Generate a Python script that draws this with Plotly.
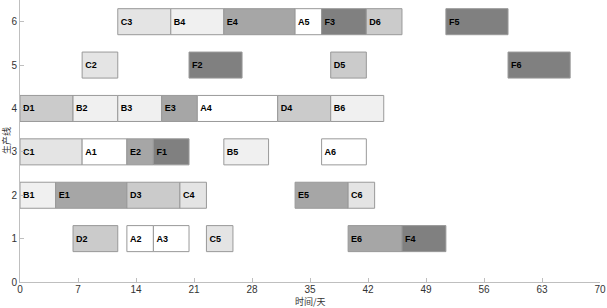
import plotly.graph_objects as go

tasks = ["C3", "B4", "E4", "A5", "F3", "D6", "F5",
         "C2", "F2", "D5", "F6",
         "D1", "B2", "B3", "E3", "A4", "D4", "B6",
         "C1", "A1", "E2", "F1", "B5", "A6",
         "B1", "E1", "D3", "C4", "E5", "C6",
         "D2", "A2", "A3", "C5", "E6", "F4"]
lines = [6, 6, 6, 6, 6, 6, 6,
         5, 5, 5, 5,
         4, 4, 4, 4, 4, 4, 4,
         3, 3, 3, 3, 3, 3,
         2, 2, 2, 2, 2, 2,
         1, 1, 1, 1, 1, 1]
starts = [11.8, 18.2, 24.6, 33.2, 36.4, 41.8, 51.4,
          7.5, 20.4, 37.5, 58.9,
          0.0, 6.4, 11.8, 17.1, 21.4, 31.1, 37.5,
          0.0, 7.5, 12.9, 16.1, 24.6, 36.4,
          0.0, 4.3, 12.9, 19.3, 33.2, 39.6,
          6.4, 12.9, 16.1, 22.5, 39.6, 46.1]
ends = [18.2, 24.6, 33.2, 36.4, 41.8, 46.1, 58.9,
        11.8, 26.8, 41.8, 66.4,
        6.4, 11.8, 17.1, 21.4, 31.1, 37.5, 43.9,
        7.5, 12.9, 16.1, 20.4, 30.0, 41.8,
        4.3, 12.9, 19.3, 22.5, 39.6, 42.8,
        11.8, 16.1, 20.4, 25.7, 46.1, 51.4]

x_ticks = [0, 7, 14, 21, 28, 35, 42, 49, 56, 63, 70]
y_ticks = [0, 1, 2, 3, 4, 5, 6]
x_title = "时间/天"
y_title = "生产线"

type_colors = {"A": "#ffffff", "B": "#f0f0f0", "C": "#e4e4e4",
               "D": "#cbcbcb", "E": "#a6a6a6", "F": "#808080"}

durations = [e - s for s, e in zip(starts, ends)]
colors = [type_colors[t[0]] for t in tasks]

fig = go.Figure()
fig.add_trace(go.Bar(
    x=durations, y=lines, base=starts, orientation="h", width=0.6,
    marker=dict(color=colors, line=dict(color="#999999", width=1)),
    text=tasks, texttemplate="<b>%{text}</b>",
    textposition="inside", insidetextanchor="start", textangle=0,
    textfont=dict(family="Liberation Sans, Arial", size=9, color="#000000"),
    hoverinfo="skip", showlegend=False,
))

axis_font = dict(family="Liberation Sans, Arial", size=10, color="#333333")
fig.update_layout(
    width=607, height=308,
    margin=dict(l=20, r=7, t=0, b=26, autoexpand=False),
    paper_bgcolor="white", plot_bgcolor="white",
    xaxis=dict(range=[0, 70], tickvals=x_ticks, ticktext=[str(v) for v in x_ticks],
               showgrid=False, zeroline=False, showline=True, linecolor="#bfbfbf",
               ticks="inside", ticklen=4, tickcolor="#bfbfbf", tickfont=axis_font,
               ticklabelstandoff=-2, automargin=False),
    yaxis=dict(range=[0, 6.5], tickvals=y_ticks, ticktext=[str(v) for v in y_ticks],
               showgrid=False, zeroline=False, showline=True, linecolor="#bfbfbf",
               ticks="inside", ticklen=4, tickcolor="#bfbfbf", tickfont=axis_font,
               automargin=False),
    annotations=[
        dict(text=x_title, xref="paper", yref="paper", x=0.5, y=-0.07,
             xanchor="center", yanchor="middle", showarrow=False,
             font=dict(family="Noto Sans CJK SC", size=9, color="#333333")),
        dict(text=y_title, xref="paper", yref="paper", x=-0.024, y=0.5,
             xanchor="center", yanchor="middle", textangle=-90, showarrow=False,
             font=dict(family="Noto Sans CJK SC", size=9, color="#333333")),
    ],
)

fig.write_html("out.html", config={"displayModeBar": False},
               post_script="document.body.style.margin='0';document.body.style.overflow='hidden';")
